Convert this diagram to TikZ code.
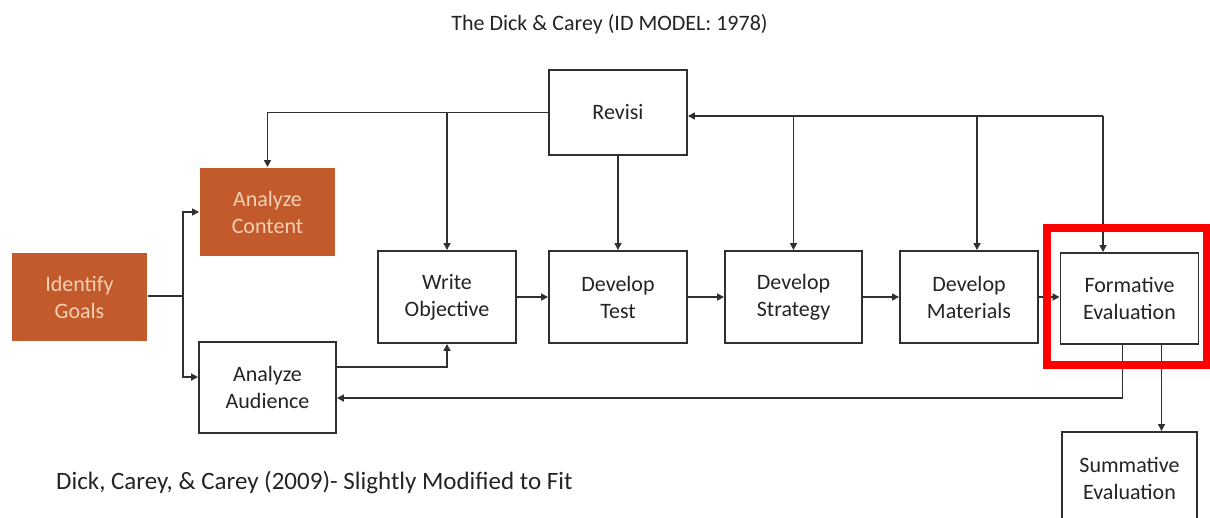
\documentclass[tikz,border=0pt]{standalone}
\usepackage{fontspec}
\setmainfont{Carlito}
\usetikzlibrary{arrows.meta}
\definecolor{rust}{HTML}{C25A2C}
\definecolor{peach}{HTML}{F6D0B4}
\definecolor{ink}{HTML}{242424}
\definecolor{wire}{HTML}{303030}
\definecolor{alert}{HTML}{FF0000}

\begin{document}
\begin{tikzpicture}[x=1pt,y=-1pt,
  box/.style={draw=wire, line width=1.9pt, fill=white, minimum width=138pt,
    minimum height=92pt, inner sep=0pt, align=center, text=ink,
    font=\fontsize{22}{27}\selectfont},
  hot/.style={box, draw=none, fill=rust, text=peach, minimum width=135pt,
    minimum height=88pt},
  link/.style={draw=wire, line width=1.6pt},
  arr/.style={link, -{Triangle[length=7pt,width=7pt]}}]

\useasboundingbox (0,0) rectangle (1210,518);
\clip (0,0) rectangle (1210,518);

% headings
\node[anchor=base, inner sep=0pt, text=ink, font=\fontsize{22}{26}\selectfont]
  (title) at (609.5,31) {The Dick \& Carey (ID MODEL: 1978)};
\node[anchor=base west, inner sep=0pt, text=ink, font=\fontsize{25}{30}\selectfont]
  (cite) at (56,489) {Dick, Carey, \& Carey (2009)- Slightly Modified to Fit};

% steps of the model
\node[box, minimum height=85pt] (rv) at (618,112.5) {Revisi};
\node[hot] (ig) at (79.5,297) {Identify\\Goals};
\node[hot] (ac) at (267.5,212) {Analyze\\Content};
\node[box, minimum width=137pt, minimum height=91pt] (aa) at (267.5,387.5) {Analyze\\Audience};
\node[box] (wo) at (447,297) {Write\\Objective};
\node[box] (dt) at (618,297) {Develop\\Test};
\node[box, minimum width=137pt] (ds) at (793.5,297) {Develop\\Strategy};
\node[box] (dm) at (969,297) {Develop\\Materials};
\node[box, minimum height=91pt] (fe) at (1129.5,298.5) {Formative\\Evaluation};
\node[box, minimum width=135pt] (se) at (1129.5,478) {Summative\\Evaluation};

% goals split into content and audience analysis
\coordinate (fork) at (183,296);
\draw[link] (ig.east |- fork) -- (fork);
\draw[arr] (fork) |- (ac.west);
\draw[arr] (fork) |- ([yshift=-36pt]aa.north west);

% revision feeds back to earlier steps
\draw[arr] (rv.west) -| (ac.north);
\draw[arr] (wo.north |- rv.west) -- (wo.north);
\draw[arr] (rv.south) -- (dt.north);

\coordinate (bus) at (1103,116);
\draw[arr] (bus) -- (rv.east |- bus);
\draw[arr] (ds.north |- bus) -- (ds.north);
\draw[arr] ([xshift=8pt]dm.north |- bus) -- ([xshift=8pt]dm.north);
\draw[arr] (bus) -- (bus |- fe.north);

% main sequence
\draw[arr] (wo.east) -- (dt.west);
\draw[arr] (dt.east) -- (ds.west);
\draw[arr] (ds.east) -- (dm.west);
\draw[arr] (dm.east) -- (dm.east -| fe.west);

% audience to objectives, evaluation loops
\draw[arr] ([yshift=-26pt]aa.north east) -| (wo.south);
\draw[arr] ([xshift=-7pt]fe.south) |- ([yshift=-57pt]aa.north east);
\draw[arr] ([xshift=32pt]fe.south) -- ([xshift=32pt]fe.south |- se.north);

% highlight frame
\draw[alert, line width=8pt] (1046.5,228) rectangle (1207,365.5);
\end{tikzpicture}
\end{document}
